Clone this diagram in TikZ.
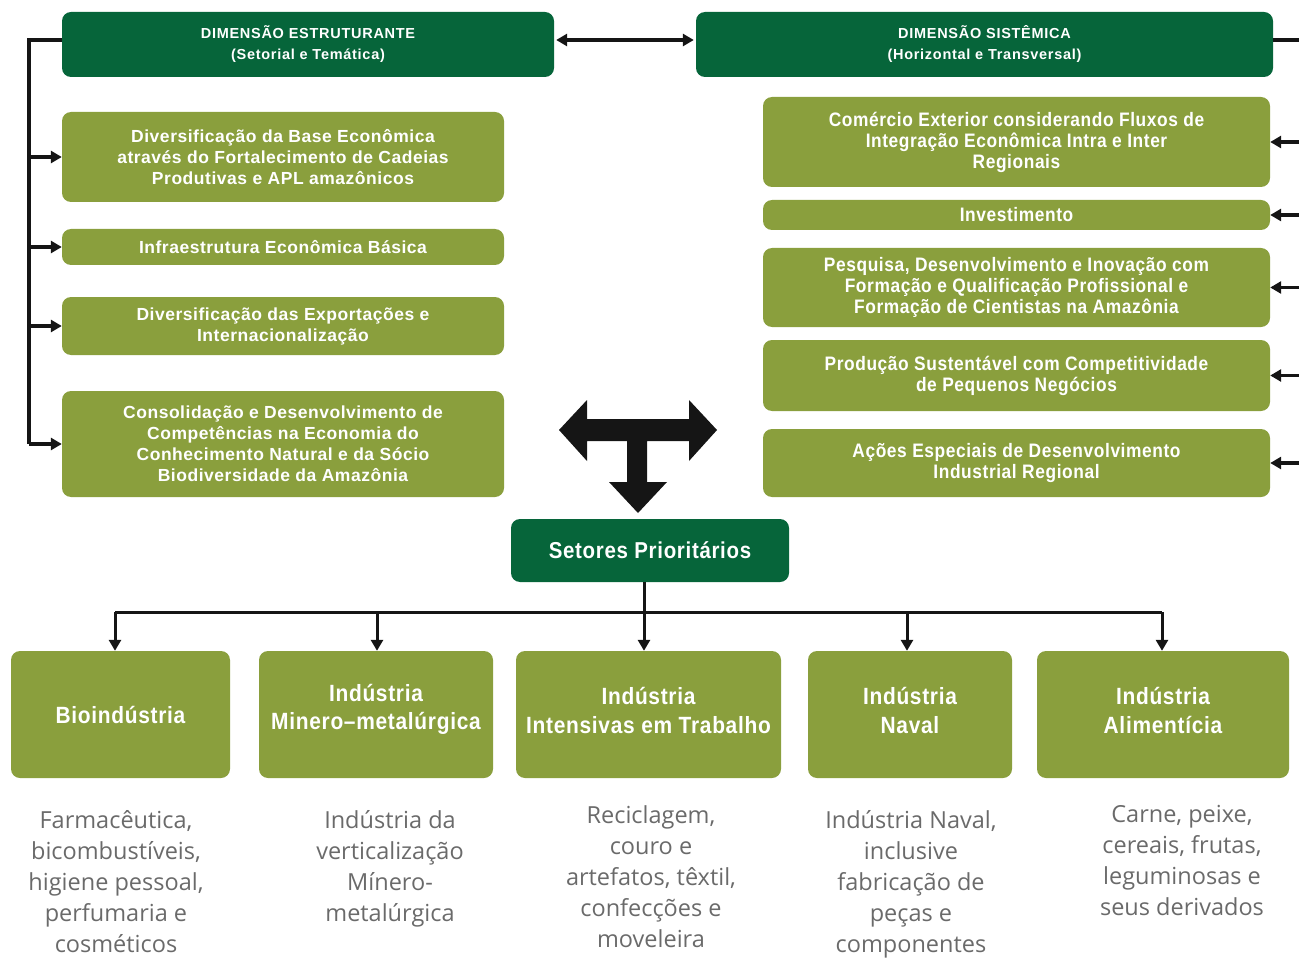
\documentclass[tikz,border=0pt]{standalone}
\usepackage{fontspec}
\setmainfont{Liberation Sans}
\newfontfamily\cond[FakeStretch=0.89,LetterSpace=3]{Liberation Sans}
\newfontfamily\lsp[LetterSpace=3]{Liberation Sans}
\newfontfamily\hfont[LetterSpace=5]{Liberation Sans}
\newfontfamily\desc{Open Sans}
\usetikzlibrary{arrows.meta}
\definecolor{dkg}{HTML}{06653A}
\definecolor{olv}{HTML}{8A9F3D}
\definecolor{gtx}{HTML}{6A6A6A}
\definecolor{lnk}{HTML}{151515}
\newcommand{\mybox}[7]{%
  \node[#1, minimum width={(#5)-(#3)}, minimum height={(#6)-(#4)}] (#2) at ({((#3)+(#5))/2},{((#4)+(#6))/2}) {#7};}
\begin{document}
\begin{tikzpicture}[x=1pt,y=-1pt,
  base/.style={rounded corners=9pt, inner sep=0pt, align=center, text=white},
  hdr/.style={base, fill=dkg, font=\hfont\bfseries\fontsize{14.5}{21}\selectfont},
  lbox/.style={base, fill=olv, font=\lsp\bfseries\fontsize{17.5}{21}\selectfont},
  rbox/.style={base, fill=olv, font=\cond\bfseries\fontsize{19.5}{21}\selectfont},
  bbox/.style={base, fill=olv},
  btxt/.style={inner sep=0pt, align=center, text=white, font=\cond\bfseries\fontsize{23.5}{28.5}\selectfont},
  sbox/.style={base, fill=dkg, font=\cond\bfseries\fontsize{23}{28}\selectfont},
  dtxt/.style={inner sep=0pt, align=center, text=gtx, font=\desc\fontsize{23.5}{31}\selectfont, anchor=north},
  lin/.style={draw=lnk, line width=3.5pt},
  arr/.style={lin, -{Triangle[length=11pt,width=12pt]}},
  darr/.style={lin, {Triangle[length=11pt,width=12pt]}-{Triangle[length=11pt,width=12pt]}},
  barr/.style={draw=lnk, line width=3pt, -{Triangle[length=11pt,width=12pt]}}
]
\useasboundingbox (0,0) rectangle (1299,960);

% headers
\mybox{hdr}{de}{62}{12}{554}{77}{DIMENSÃO ESTRUTURANTE\\(Setorial e Temática)}
\mybox{hdr}{ds}{696}{12}{1273}{77}{DIMENSÃO SISTÊMICA\\(Horizontal e Transversal)}

% left boxes
\mybox{lbox}{l1}{62}{112}{504}{202}{Diversificação da Base Econômica\\através do Fortalecimento de Cadeias\\Produtivas e APL amazônicos}
\mybox{lbox}{l2}{62}{229}{504}{265}{Infraestrutura Econômica Básica}
\mybox{lbox}{l3}{62}{297}{504}{355}{Diversificação das Exportações e\\Internacionalização}
\mybox{lbox}{l4}{62}{391}{504}{497}{Consolidação e Desenvolvimento de\\Competências na Economia do\\Conhecimento Natural e da Sócio\\Biodiversidade da Amazônia}

% right boxes
\mybox{rbox}{r1}{763}{97}{1270}{187}{Comércio Exterior considerando Fluxos de\\Integração Econômica Intra e Inter\\Regionais}
\mybox{rbox}{r2}{763}{200}{1270}{230}{Investimento}
\mybox{rbox}{r3}{763}{248}{1270}{327}{Pesquisa, Desenvolvimento e Inovação com\\Formação e Qualificação Profissional e\\Formação de Cientistas na Amazônia}
\mybox{rbox}{r4}{763}{340}{1270}{411}{Produção Sustentável com Competitividade\\de Pequenos Negócios}
\mybox{rbox}{r5}{763}{429}{1270}{497}{Ações Especiais de Desenvolvimento\\Industrial Regional}

% central box
\mybox{sbox}{set}{511}{519}{789}{582}{Setores Prioritários}

% bottom boxes
\mybox{bbox}{b1}{11}{651}{230}{778}{}
\mybox{bbox}{b2}{259}{651}{493}{778}{}
\mybox{bbox}{b3}{516}{651}{781}{778}{}
\mybox{bbox}{b4}{808}{651}{1012}{778}{}
\mybox{bbox}{b5}{1037}{651}{1289}{778}{}
\node[btxt] (t1) at (b1.center) {Bioindústria};
\node[btxt, yshift=5pt] (t2) at (b2.center) {Indústria\\Minero–metalúrgica};
\node[btxt, yshift=4pt] (t3) at (b3.center) {Indústria\\Intensivas em Trabalho};
\node[btxt, yshift=4pt] (t4) at (b4.center) {Indústria\\Naval};
\node[btxt, yshift=4pt] (t5) at (b5.center) {Indústria\\Alimentícia};

% descriptions
\node[dtxt] (d1) at (116,810) {Farmacêutica,\\bicombustíveis,\\higiene pessoal,\\perfumaria e\\cosméticos};
\node[dtxt] (d2) at (390,810) {Indústria da\\verticalização\\Mínero-\\metalúrgica};
\node[dtxt] (d3) at (651,805) {Reciclagem,\\couro e\\artefatos, têxtil,\\confecções e\\moveleira};
\node[dtxt] (d4) at (911,810) {Indústria Naval,\\inclusive\\fabricação de\\peças e\\componentes};
\node[dtxt] (d5) at (1182,805) {Carne, peixe,\\cereais, frutas,\\leguminosas e\\seus derivados};

% bus coordinates
\coordinate (L) at (29,40);
\coordinate (R) at (1299,40);

% header link
\draw[darr, shorten <=2pt, shorten >=2pt] (L -| de.east) -- (L -| ds.west);

% left bus
\draw[lin] (L -| de.west) -- (L) -- (L |- l4.west);
\foreach \n in {l1,l2,l3,l4} \draw[arr] (L |- \n.west) -- (\n.west);

% right bus
\draw[lin] (R -| ds.east) -- (R);
\foreach \n in {r1,r2,r3,r4,r5} \draw[arr] (R |- \n.east) -- (\n.east);

% big T arrow
\fill[lnk] (559,430) -- (587,400) -- (587,419) -- (689,419) -- (689,400) -- (717,430)
  -- (689,461) -- (689,441) -- (647,441) -- (647,482) -- (667,482) -- (638,513)
  -- (609,482) -- (627,482) -- (627,441) -- (587,441) -- (587,461) -- cycle;

% bottom tree
\coordinate (B) at (644,612);
\coordinate (a1) at (115,612);
\coordinate (a2) at (377,612);
\coordinate (a3) at (644,612);
\coordinate (a4) at (907,612);
\coordinate (a5) at (1162,612);
\draw[draw=lnk, line width=3pt] (B |- set.south) -- (B);
\draw[draw=lnk, line width=3pt] (a1) -- (a5);
\foreach \i in {1,...,5} \draw[barr] (a\i) -- (a\i |- b\i.north);
\end{tikzpicture}
\end{document}
